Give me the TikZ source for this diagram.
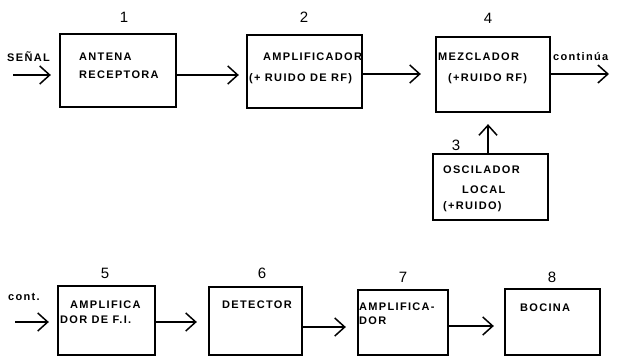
\documentclass[tikz,border=0pt]{standalone}
\usepackage{fontspec}
\setmainfont{Liberation Sans}
\newfontfamily\lab{Liberation Sans Bold}[LetterSpace=12]
\newfontfamily\numf{Liberation Sans}
\usetikzlibrary{arrows.meta}
\begin{document}
\begin{tikzpicture}[x=1pt,y=-1pt,
  box/.style={draw, line width=2.3pt, inner sep=0pt},
  txt/.style={anchor=west, inner sep=0pt, font=\lab\fontsize{11}{13}\selectfont},
  num/.style={inner sep=0pt, font=\numf\fontsize{15}{17}\selectfont},
  arr/.style={line width=1.5pt, -{Straight Barb[length=10pt,width=18pt,line width=1.5pt]}}]
\useasboundingbox (0,0) rectangle (617,358);
% boxes
\node[box, minimum width=116pt, minimum height=73pt] (b1) at (118,70.5) {};
\node[box, minimum width=115pt, minimum height=73pt] (b2) at (304.5,71.5) {};
\node[box, minimum width=114pt, minimum height=75pt] (b4) at (493,74.5) {};
\node[box, minimum width=115pt, minimum height=66pt] (b3) at (490.5,187) {};
\node[box, minimum width=97pt, minimum height=69pt] (b5) at (106.5,320.5) {};
\node[box, minimum width=93pt, minimum height=68pt] (b6) at (255.5,321) {};
\node[box, minimum width=90pt, minimum height=65pt] (b7) at (403,322.5) {};
\node[box, minimum width=95pt, minimum height=66pt] (b8) at (552.5,322) {};
% numbers
\node[num] (n1) at (124,17) {1};
\node[num] (n2) at (304,17) {2};
\node[num] (n4) at (488,18) {4};
\node[num] (n3) at (456,145) {3};
\node[num] (n5) at (105,273) {5};
\node[num] (n6) at (262,273) {6};
\node[num] (n7) at (403,277) {7};
\node[num] (n8) at (552,277) {8};
% texts
\node[txt] (t1a) at (79,56.5) {ANTENA};
\node[txt] (t1b) at (79,75) {RECEPTORA};
\node[txt] (t2a) at (263,56.5) {AMPLIFICADOR};
\node[txt] (t2b) at (249,79) {(+ RUIDO DE RF)};
\node[txt] (t4a) at (438,56.5) {MEZCLADOR};
\node[txt] (t4b) at (448,79) {(+RUIDO RF)};
\node[txt] (t3a) at (443,170) {OSCILADOR};
\node[txt] (t3b) at (462,190) {LOCAL};
\node[txt] (t3c) at (443,207) {(+RUIDO)};
\node[txt] (t5a) at (70,305) {AMPLIFICA};
\node[txt] (t5b) at (60,320) {DOR DE F.I.};
\node[txt] (t6) at (222,305) {DETECTOR};
\node[txt] (t7a) at (359,307) {AMPLIFICA-};
\node[txt] (t7b) at (359,321) {DOR};
\node[txt] (t8) at (520,308) {BOCINA};
\node[txt] (ls) at (7,57) {SEÑAL};
\node[txt] (lc) at (553,57) {continúa};
\node[txt] (lk) at (8,297) {cont.};
% connector end points
\coordinate (in1) at (13,75);
\coordinate (out4) at (609,74);
\coordinate (in5) at (15,322);
% arrows
\draw[arr, shorten >=8pt] (in1) -- (in1 -| b1.west);
\draw[arr, shorten >=7pt] (b1.east |- 0,75) -- (b2.west |- 0,75);
\draw[arr, shorten >=14pt] (b2.east |- 0,74) -- (b4.west |- 0,74);
\draw[arr] (b4.east |- out4) -- (out4);
\draw[arr, shorten >=11pt] (b3.north -| 488,0) -- (b4.south -| 488,0);
\draw[arr, shorten >=8pt] (in5) -- (in5 -| b5.west);
\draw[arr, shorten >=11pt] (b5.east |- 0,322) -- (b6.west |- 0,322);
\draw[arr, shorten >=11pt] (b6.east |- 0,327) -- (b7.west |- 0,327);
\draw[arr, shorten >=10pt] (b7.east |- 0,326) -- (b8.west |- 0,326);
\end{tikzpicture}
\end{document}
